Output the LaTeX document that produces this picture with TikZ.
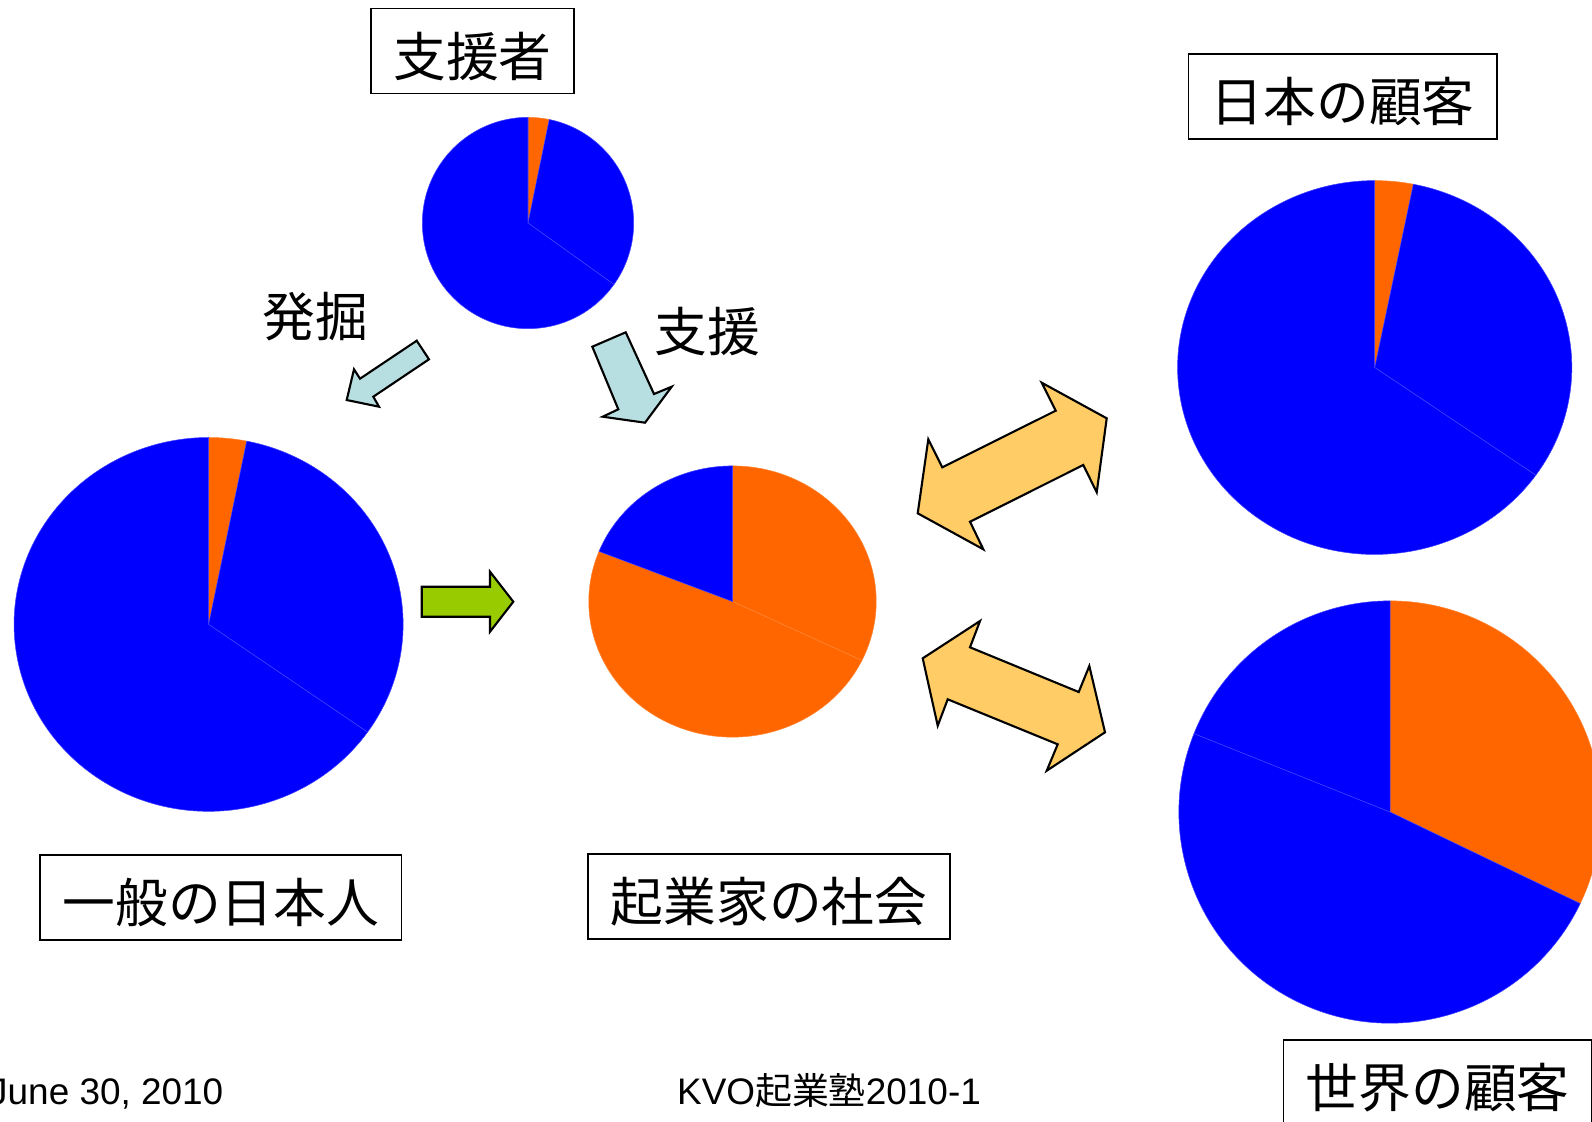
\documentclass[tikz,border=0pt]{standalone}
\usepackage{fontspec}
\setmainfont{Liberation Sans}
\newfontfamily\jpfont{Noto Sans CJK JP}
\usetikzlibrary{positioning}

\definecolor{pieblue}{RGB}{0,0,255}
\definecolor{pieorange}{RGB}{255,102,0}
\definecolor{arrowblue}{RGB}{183,222,224}
\definecolor{arrowgold}{RGB}{255,204,102}
\definecolor{arrowgreen}{RGB}{153,204,0}

\begin{document}
\begin{tikzpicture}[x=0.01cm, y=-0.01cm,
        LBL/.style={rectangle, draw=black, line width=0.45pt, inner xsep=0.225cm, inner ysep=0.05cm, text height=0.56cm, text depth=0.06cm, minimum height=0.85cm, font=\jpfont\fontsize{15pt}{17pt}\selectfont},  % boxed group name
        TXT/.style={inner sep=0pt, font=\jpfont\fontsize{15pt}{17pt}\selectfont},
        FOOT/.style={inner sep=0pt, font=\fontsize{10.5pt}{12pt}\selectfont},
        BLK/.style={draw=black, line width=0.6pt, line join=miter},
        ORG/.style={fill=pieorange, draw=pieorange!80!white, line width=0.15pt},
        BLU/.style={fill=pieblue, draw=pieblue!75!white, line width=0.15pt},
    ]
        \clip (0,0) rectangle (1592,1121);

        %Pie centres
        \coordinate (Supporters) at (528,223);
        \coordinate (Public) at (208.6,624.4);
        \coordinate (Society) at (732.5,601.5);
        \coordinate (JpCustomers) at (1374.7,367.5);
        \coordinate (WorldCustomers) at (1390,812);

        %Pies
        \path[ORG] (Supporters) -- ++(90:1.056cm) arc[start angle=90, end angle=78.4, radius=1.056cm] -- cycle;
        \path[BLU] (Supporters) -- ++(78.4:1.056cm) arc[start angle=78.4, end angle=-35.6, radius=1.056cm] -- cycle;
        \path[BLU] (Supporters) -- ++(-35.6:1.056cm) arc[start angle=-35.6, end angle=-270, radius=1.056cm] -- cycle;

        \path[ORG] (Public) -- ++(90:1.944cm and 1.868cm) arc[start angle=90, end angle=78.7, x radius=1.944cm, y radius=1.868cm] -- cycle;
        \path[BLU] (Public) -- ++(78.7:1.944cm and 1.868cm) arc[start angle=78.7, end angle=-35.2, x radius=1.944cm, y radius=1.868cm] -- cycle;
        \path[BLU] (Public) -- ++(-35.2:1.944cm and 1.868cm) arc[start angle=-35.2, end angle=-270, x radius=1.944cm, y radius=1.868cm] -- cycle;

        \path[ORG] (Society) -- ++(90:1.436cm and 1.355cm) arc[start angle=90, end angle=-25.8, x radius=1.436cm, y radius=1.355cm] -- cycle;
        \path[ORG] (Society) -- ++(-25.8:1.436cm and 1.355cm) arc[start angle=-25.8, end angle=-201.7, x radius=1.436cm, y radius=1.355cm] -- cycle;
        \path[BLU] (Society) -- ++(158.3:1.436cm and 1.355cm) arc[start angle=158.3, end angle=90, x radius=1.436cm, y radius=1.355cm] -- cycle;

        \path[ORG] (JpCustomers) -- ++(90:1.97cm and 1.868cm) arc[start angle=90, end angle=78.7, x radius=1.97cm, y radius=1.868cm] -- cycle;
        \path[BLU] (JpCustomers) -- ++(78.7:1.97cm and 1.868cm) arc[start angle=78.7, end angle=-35.2, x radius=1.97cm, y radius=1.868cm] -- cycle;
        \path[BLU] (JpCustomers) -- ++(-35.2:1.97cm and 1.868cm) arc[start angle=-35.2, end angle=-270, x radius=1.97cm, y radius=1.868cm] -- cycle;

        \path[ORG] (WorldCustomers) -- ++(90:2.11cm) arc[start angle=90, end angle=-25.7, radius=2.11cm] -- cycle;
        \path[BLU] (WorldCustomers) -- ++(-25.7:2.11cm) arc[start angle=-25.7, end angle=-201.8, radius=2.11cm] -- cycle;
        \path[BLU] (WorldCustomers) -- ++(158.2:2.11cm) arc[start angle=158.2, end angle=90, radius=2.11cm] -- cycle;

        %Nodes
        \node[LBL] (SupportersLbl) at (472.5,51) {支援者};
        \node[LBL] (JpCustomersLbl) at (1342.8,96.4) {日本の顧客};
        \node[LBL] (PublicLbl) at (220.8,897.5) {一般の日本人};
        \node[LBL] (SocietyLbl) at (769,896.5) {起業家の社会};
        \node[LBL] (WorldCustomersLbl) at (1437.8,1082.5) {世界の顧客};
        \node[TXT] (Discover) at (315,317) {発掘};
        \node[TXT] (Support) at (707,332) {支援};
        \node[FOOT, anchor=base east] (Date) at (224,1104) {June 30, 2010};
        \node[FOOT, anchor=base] (Title) at (829,1104) {KVO{\jpfont 起業塾}2010-1};

        %Block arrows
        \draw[BLK, fill=arrowblue] (416.7,340.7) -- (429,359.3) -- (373.3,396.7) -- (379,406.7) -- (346.7,400) -- (354,369.3) -- (360,378.7) -- cycle;
        \draw[BLK, fill=arrowblue] (592.3,346.7) -- (625.7,332.3) -- (654,394) -- (671.7,386.7) -- (645,422.7) -- (602.7,416.7) -- (618.3,409.3) -- cycle;
        \draw[BLK, fill=arrowgreen] (421.7,586.7) -- (490,586.7) -- (490,571.7) -- (513.3,601.7) -- (490,631.7) -- (490,616.7) -- (421.7,616.7) -- cycle;
        \draw[BLK, fill=arrowgold] (1041.7,382.7) -- (1106.7,418.3) -- (1096.7,492.3) -- (1083.3,465) -- (970,521.7) -- (983.3,549.3) -- (917.7,513.3) -- (928.3,439.3) -- (942.3,467.3) -- (1055.7,410.7) -- cycle;
        \draw[BLK, fill=arrowgold] (980,621) -- (922.7,658.3) -- (937.7,725.7) -- (947.7,699.3) -- (1057.7,744.3) -- (1046.7,770.7) -- (1105,732.3) -- (1089.3,666) -- (1078.7,692) -- (970,647.3) -- cycle;
    \end{tikzpicture}
\end{document}
